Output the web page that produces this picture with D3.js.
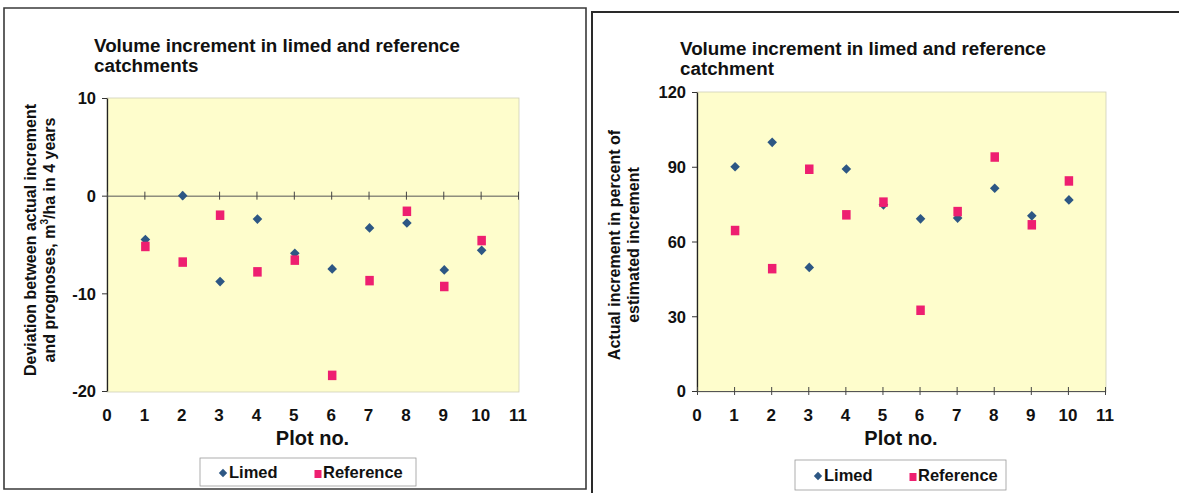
<!DOCTYPE html>
<html>
<head>
<meta charset="utf-8">
<script src="https://cdn.jsdelivr.net/npm/d3@7"></script>
<style>
  html, body { margin: 0; padding: 0; background: #ffffff; }
  svg text { font-family: "Liberation Sans", Arial, sans-serif; font-weight: bold; fill: #111; }
</style>
</head>
<body>
<svg id="chart" width="1179" height="493"></svg>
<script>
// Plot numbers shared by both panels
const plots = [1, 2, 3, 4, 5, 6, 7, 8, 9, 10];
const xTicks = [0, 1, 2, 3, 4, 5, 6, 7, 8, 9, 10, 11];

// Deviation between actual increment and prognoses, m3/ha in 4 years
const deviationLimed = [-4.5, 0.0, -8.8, -2.4, -5.9, -7.5, -3.3, -2.8, -7.6, -5.6];
const deviationReference = [-5.2, -6.8, -2.0, -7.8, -6.6, -18.4, -8.7, -1.6, -9.3, -4.6];
const deviationTicks = [10, 0, -10, -20];

// Actual increment in percent of estimated increment
const percentLimed = [90.0, 99.8, 49.6, 89.1, 74.7, 69.1, 69.4, 81.4, 70.3, 76.7];
const percentReference = [64.4, 49.1, 89.0, 70.7, 75.8, 32.4, 72.0, 93.9, 66.7, 84.3];
const percentTicks = [0, 30, 60, 90, 120];

const seriesNames = ["Limed", "Reference"];

const svg = d3.select("#chart");
const limedColor = "#2d5784";
const refColor = "#ee1f70";
const plotBg = "#fefdcc";
const FONT = "Liberation Sans, Arial, sans-serif";

// Outer frames of the two panels
svg.append("path").attr("d", "M4,8 L586,8 L586,489 L4,489 Z")
  .attr("fill", "none").attr("stroke", "#3a3a3a").attr("stroke-width", 1.6);
svg.append("path").attr("d", "M592,494 L592,12 L1179,12")
  .attr("fill", "none").attr("stroke", "#2a2a2a").attr("stroke-width", 2);

function diamond(g, cx, cy, r) {
  g.append("path")
    .attr("d", `M${cx},${cy - r} L${cx + r},${cy} L${cx},${cy + r} L${cx - r},${cy} Z`)
    .attr("fill", limedColor);
}
function square(g, cx, cy, w, h) {
  g.append("rect").attr("x", cx - w / 2).attr("y", cy - h / 2)
    .attr("width", w).attr("height", h).attr("fill", refColor);
}

function drawPanel(cfg) {
  const g = svg.append("g");
  const x = d3.scaleLinear().domain([0, 11]).range([cfg.left, cfg.right]);
  const y = d3.scaleLinear().domain(cfg.yDomain).range([cfg.bottom, cfg.top]);

  // plot area
  g.append("rect").attr("x", cfg.left).attr("y", cfg.top)
    .attr("width", cfg.right - cfg.left + 1).attr("height", cfg.bottom - cfg.top + 1)
    .attr("fill", plotBg).attr("stroke", "#cfcfb8").attr("stroke-width", 0.8);

  // title
  cfg.title.forEach((t, i) => {
    g.append("text").attr("x", cfg.titleX).attr("y", cfg.titleY + i * 20)
      .attr("font-size", 18.8).text(t);
  });

  // y axis
  const yAxis = d3.axisLeft(y).tickValues(cfg.yTicks).tickSize(5).tickSizeOuter(0)
    .tickPadding(6).tickFormat(d => String(d));
  const ya = g.append("g").attr("transform", `translate(${cfg.left},0)`).call(yAxis);
  ya.attr("font-size", 16.5).attr("font-family", FONT);
  ya.select(".domain").attr("stroke", "#222").attr("stroke-width", 1.3);
  ya.selectAll(".tick line").attr("stroke", "#333");
  ya.selectAll(".tick text").attr("font-size", 16.5).attr("font-weight", "bold").attr("fill", "#111")
    .attr("dy", "0.36em");

  // x axis line at the crossing value with ticks across it
  const xLineY = y(cfg.xCross);
  const xAxis = d3.axisBottom(x).tickValues(xTicks).tickSize(0).tickFormat("");
  const xa = g.append("g").attr("transform", `translate(0,${xLineY})`).call(xAxis);
  xa.select(".domain").attr("stroke", "#555").attr("stroke-width", 1);
  xa.selectAll(".tick").append("line").attr("y1", -4).attr("y2", 4)
    .attr("stroke", "#444").attr("stroke-width", 1);

  // x tick labels at the bottom of the plot area
  g.selectAll(".xl").data(xTicks).join("text")
    .attr("x", d => x(d)).attr("y", cfg.bottom + 30)
    .attr("text-anchor", "middle").attr("font-size", 17).text(d => d);

  g.append("text").attr("x", (cfg.left + cfg.right) / 2).attr("y", cfg.bottom + 54)
    .attr("text-anchor", "middle").attr("font-size", 20).text("Plot no.");

  // y-axis title (two rotated lines)
  cfg.yTitle.forEach((t, i) => {
    const tx = cfg.yTitleX + i * cfg.yTitleGap;
    const txt = g.append("text")
      .attr("transform", `translate(${tx},${cfg.yTitleCY}) rotate(-90)`)
      .attr("text-anchor", "middle").attr("font-size", 16);
    if (Array.isArray(t)) {
      t.forEach(part => {
        const sp = txt.append("tspan").text(part.text);
        if (part.sup) sp.attr("font-size", 10).attr("dy", -7);
        else if (part.after) sp.attr("dy", 7);
      });
    } else {
      txt.text(t);
    }
  });

  // markers
  cfg.limed.forEach((v, i) => diamond(g, x(plots[i]) + 1, y(v), 4.8));
  cfg.reference.forEach((v, i) => square(g, x(plots[i]) + 1, y(v), 8.5, 9.5));

  // legend
  const L = cfg.legend;
  g.append("rect").attr("x", L.x).attr("y", L.y).attr("width", L.w).attr("height", L.h)
    .attr("fill", "#fff").attr("stroke", "#9a9a9a").attr("stroke-width", 0.8);
  diamond(g, L.x + 23, L.y + L.h / 2 + 1, 4.2);
  g.append("text").attr("x", L.x + 29).attr("y", L.y + L.h / 2 + 6).attr("font-size", 16.5).text(seriesNames[0]);
  square(g, L.x + 118, L.y + L.h / 2 + 2, 7, 8);
  g.append("text").attr("x", L.x + 123).attr("y", L.y + L.h / 2 + 6).attr("font-size", 16.5).text(seriesNames[1]);
}

drawPanel({
  left: 107, right: 518, top: 98, bottom: 391,
  yDomain: [-20, 10], yTicks: deviationTicks, xCross: 0,
  title: ["Volume increment in limed and reference", "catchments"],
  titleX: 94, titleY: 52,
  yTitle: ["Deviation between actual  increment",
           [{ text: "and prognoses, m" }, { text: "3", sup: true }, { text: "/ha in 4 years", after: true }]],
  yTitleX: 36, yTitleGap: 19, yTitleCY: 240,
  limed: deviationLimed, reference: deviationReference,
  legend: { x: 200, y: 458, w: 216, h: 28 }
});

drawPanel({
  left: 697, right: 1105, top: 92, bottom: 391,
  yDomain: [0, 120], yTicks: percentTicks, xCross: 0,
  title: ["Volume increment in limed and reference", "catchment"],
  titleX: 680, titleY: 55,
  yTitle: ["Actual increment in percent of", "estimated increment"],
  yTitleX: 620, yTitleGap: 19, yTitleCY: 245,
  limed: percentLimed, reference: percentReference,
  legend: { x: 795, y: 460, w: 211, h: 30 }
});
</script>
</body>
</html>
